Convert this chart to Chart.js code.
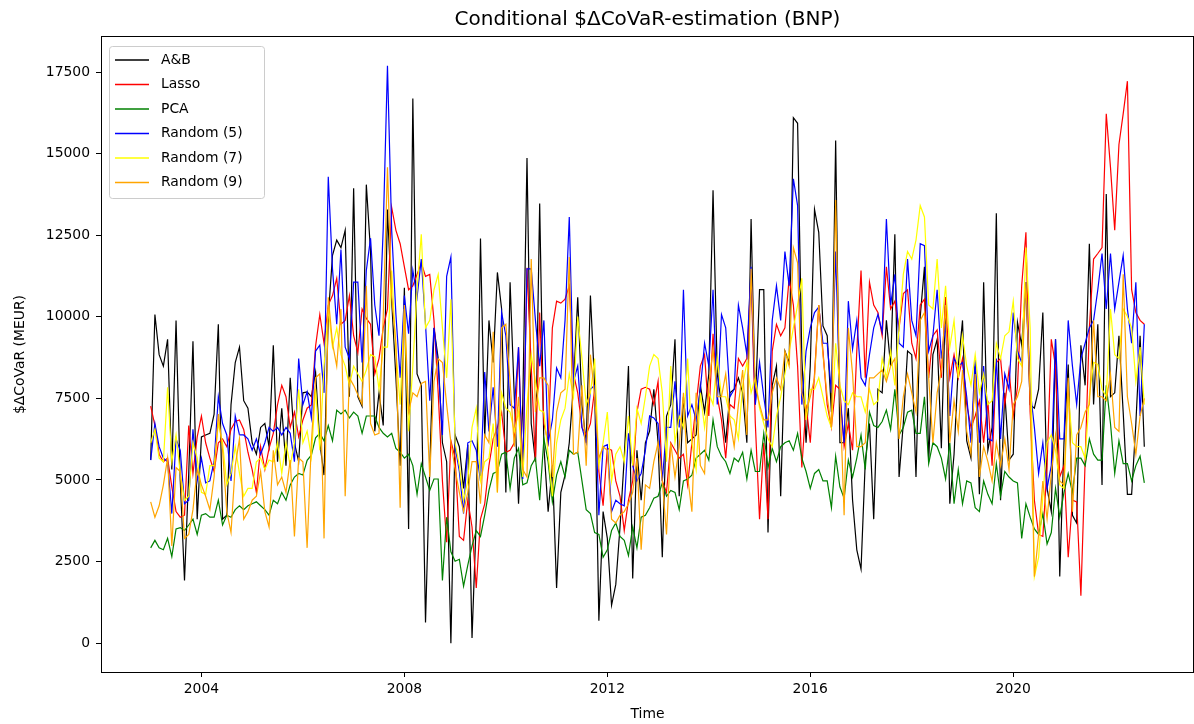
<!DOCTYPE html>
<html>
<head>
<meta charset="utf-8">
<title>Conditional ΔCoVaR estimation (BNP)</title>
<script src="https://cdn.jsdelivr.net/npm/chart.js@4.4.1/dist/chart.umd.min.js"></script>
<style>
  html, body { margin: 0; padding: 0; background: #fff; }
  #wrap { width: 1194px; height: 724px; }
</style>
</head>
<body>
<div id="wrap"><canvas id="covarChart" width="1194" height="724"></canvas></div>
<script>
// Monthly conditional $ΔCoVaR estimates for BNP (MEUR), Jan 2003 .. Aug 2022, one row per year
const startYear = 2003;

const abValues = [
  5610, 10070, 8840, 8490, 9310, 5320, 9890, 4970, 1920, 5200, 9250, 3800,
  6320, 6380, 6430, 7020, 9770, 3800, 3920, 7310, 8600, 9070, 7430, 7200,
  6140, 5790, 6610, 6730, 6020, 9130, 5560, 7200, 5440, 8130, 6140, 5560,
  7670, 7700, 7550, 8300, 6140, 5150, 10000, 11880, 12350, 12120, 12650, 7550,
  13940, 7550, 7260, 14050, 12000, 6490, 7670, 6670, 13290, 10480, 8130, 5440,
  10890, 3500, 16690, 8250, 7900, 630, 5320, 9660, 8720, 6140, 5560, 0,
  6380, 6020, 4740, 6080, 160, 3800, 12400, 6300, 9890, 8600, 11360, 10240,
  4620, 11060, 7550, 4270, 7310, 14870, 6730, 5560, 13470, 6020, 4030, 5440,
  1690, 4620, 5150, 6140, 7900, 10600, 7310, 6140, 10650, 7900, 690, 4030,
  3210, 1160, 1800, 3560, 5670, 8490, 1980, 5910, 4380, 6140, 6500, 7780,
  6140, 2630, 6960, 7310, 9310, 4500, 7550, 6140, 6260, 6380, 7900, 7080,
  8250, 13880, 8250, 7310, 6140, 7670, 7780, 8130, 7670, 6140, 13000, 7310,
  10830, 10830, 3390, 7900, 8490, 4500, 8950, 8600, 16100, 15930, 8720, 6140,
  8500, 13290, 12590, 9720, 9420, 7080, 15400, 6140, 6140, 7200, 4380, 2860,
  2270, 5560, 6730, 3800, 7780, 7670, 9890, 8490, 12530, 5090, 6730, 8950,
  8840, 5090, 10010, 11530, 5560, 8840, 9310, 5970, 10600, 4270, 5790, 8490,
  9890, 6200, 5670, 8490, 4560, 11060, 5910, 6610, 13170, 4380, 7670, 5610,
  5790, 9830, 9130, 11060, 7310, 7200, 7780, 10130, 4740, 4030, 9310, 2040,
  6140, 8540, 3920, 3680, 9130, 7900, 12240, 7310, 9770, 4850, 13760, 7550,
  7670, 9420, 7080, 4560, 4560, 6730, 9420, 6020
];

const lassoValues = [
  7260, 6670, 5790, 5560, 5670, 4790, 4030, 3860, 3920, 6670, 5200, 6320,
  6960, 6140, 5670, 5260, 6140, 6260, 6020, 6550, 6790, 6840, 6550, 5850,
  5320, 4620, 6020, 5320, 5970, 6430, 7310, 7900, 7550, 6610, 7080, 6320,
  6840, 7200, 7300, 9100, 10070, 9190, 10360, 10650, 11180, 9770, 9890, 10650,
  9420, 8900, 10240, 9950, 9770, 8250, 8720, 9660, 10240, 13350, 12650, 12240,
  11530, 10830, 10950, 11300, 11650, 11240, 11300, 9890, 7670, 4970, 3090, 6200,
  5670, 3270, 3150, 4380, 3560, 1690, 3800, 4270, 5440, 6260, 6610, 7080,
  5850, 5910, 6140, 9070, 5150, 11500, 8500, 5560, 10130, 6730, 6140, 9660,
  10480, 10420, 10540, 10950, 8250, 7670, 6610, 6380, 6730, 7780, 5260, 4210,
  5970, 5910, 4970, 4500, 3450, 4380, 4970, 7080, 7780, 7840, 7780, 7310,
  8020, 4970, 4620, 6140, 5910, 5670, 5790, 4850, 6140, 7310, 8490, 8840,
  6960, 9480, 7550, 6840, 5670, 7310, 7200, 8720, 8490, 8720, 11300, 6730,
  3800, 6140, 3800, 8950, 9770, 9420, 9660, 11180, 10360, 8490, 5380, 7310,
  6140, 8250, 10360, 8950, 7310, 6610, 7900, 7780, 6020, 6730, 5910, 8950,
  11420, 8130, 11060, 10360, 10130, 9420, 11530, 10240, 10480, 9660, 10710, 10830,
  9190, 8720, 10360, 10540, 8130, 9420, 9600, 8130, 10600, 8130, 8840, 8130,
  8720, 7310, 6610, 6960, 7430, 6140, 7430, 5440, 8600, 8720, 7310, 8370,
  6960, 7840, 10950, 12590, 7080, 4380, 3330, 3270, 5440, 9310, 8490, 5090,
  5440, 2630, 4380, 4330, 1450, 5560, 9660, 11770, 11940, 12120, 16220, 14580,
  12650, 15280, 16220, 17220, 10830, 10130, 9890, 9770
];

const pcaValues = [
  2920, 3150, 2920, 2860, 3210, 2650, 3500, 3540, 3450, 3620, 3800, 3330,
  3920, 3970, 3860, 3860, 4380, 3620, 3920, 3860, 4090, 4210, 4090, 4210,
  4270, 4330, 4210, 4090, 3920, 4380, 4270, 4620, 4380, 4850, 5090, 5200,
  5150, 5600, 5760, 6290, 6430, 6200, 6670, 6200, 7140, 7020, 7140, 6900,
  7080, 6960, 6430, 6960, 6960, 6960, 6610, 6430, 6320, 6430, 5970, 5850,
  5670, 5790, 5440, 4560, 5500, 5090, 4680, 5030, 5030, 1920, 3860, 2800,
  2510, 2570, 1750, 2390, 2980, 3450, 3270, 3920, 4680, 5200, 5260, 5790,
  5850, 4740, 5670, 5970, 4850, 4910, 5440, 5670, 4380, 6260, 5560, 4330,
  5150, 5560, 5090, 5910, 5790, 5850, 4970, 4090, 3970, 3390, 3330, 2630,
  2860, 3450, 3680, 3270, 3150, 2680, 3560, 2920, 3860, 3920, 4150, 4440,
  4500, 4910, 4500, 4680, 4620, 4090, 4970, 5030, 5150, 5670, 5790, 5910,
  5610, 6840, 6020, 5730, 5560, 5200, 5670, 5560, 5850, 5030, 5910, 5260,
  5260, 6430, 5380, 5970, 5560, 6020, 6140, 6200, 5910, 6430, 5670, 5260,
  4740, 5200, 5320, 4970, 4970, 4150, 5730, 4790, 4440, 5610, 5090, 5670,
  6380, 5320, 7080, 6670, 6610, 6790, 7140, 6550, 7780, 6380, 6610, 7080,
  7140, 6430, 6430, 7550, 5500, 6140, 6020, 5670, 5030, 6140, 4270, 5320,
  4270, 4970, 4910, 4150, 4030, 4970, 4560, 4270, 5500, 4500, 5260, 5090,
  4970, 4910, 3210, 4270, 3860, 3500, 3330, 3970, 3040, 3390, 4740, 3860,
  4620, 5200, 4620, 5670, 5670, 5440, 6260, 5790, 5610, 5610, 7900, 6730,
  5200, 6200, 5500, 5500, 4970, 5440, 5730, 4910
];

const random5Values = [
  5610, 6730, 6020, 5670, 5560, 3970, 6260, 5910, 4270, 4380, 6550, 4970,
  5670, 4910, 4970, 5560, 7550, 6730, 6380, 4970, 6960, 6380, 6380, 6260,
  5910, 6260, 5790, 6140, 6610, 6490, 6610, 6380, 6610, 6430, 5560, 8720,
  7310, 7700, 6900, 8950, 9130, 7670, 14290, 11470, 9770, 12060, 9070, 8720,
  11060, 11060, 8600, 11420, 12410, 10360, 9420, 12710, 17690, 12650, 10070, 8130,
  10650, 9480, 11420, 10600, 11770, 9770, 7430, 9660, 8490, 6380, 11240, 11830,
  6020, 5260, 3970, 6140, 6200, 5910, 4970, 8310, 6490, 7840, 6020, 10130,
  9420, 7310, 7200, 9070, 5030, 11470, 11470, 9890, 8490, 9890, 6140, 6840,
  8430, 8130, 9890, 13060, 8020, 8490, 6610, 6140, 7780, 7900, 3920, 6020,
  6080, 4030, 4380, 4270, 4210, 6430, 5440, 4970, 5200, 5910, 6960, 6900,
  6730, 4970, 6610, 6610, 8020, 6610, 10830, 6960, 7310, 6840, 7780, 9190,
  8490, 10830, 7310, 10070, 9660, 7550, 7780, 10360, 9660, 8840, 11530, 7310,
  8600, 7550, 6610, 9890, 10950, 9890, 12000, 10950, 14230, 13410, 7310, 8950,
  9660, 10130, 10300, 9190, 9190, 7670, 12000, 7550, 6140, 10480, 9010, 9890,
  8130, 7900, 8840, 9660, 10070, 9540, 13000, 10360, 11300, 9190, 9070, 11770,
  9890, 9420, 12240, 12180, 8950, 9420, 10830, 8720, 9770, 6960, 8720, 8490,
  8600, 7550, 6140, 8720, 6140, 8490, 6260, 6200, 8720, 6260, 8250, 7780,
  10130, 8950, 8600, 11060, 7780, 6610, 5200, 6140, 4740, 5440, 9310, 6260,
  6260, 9890, 8490, 7310, 8720, 9190, 9660, 9890, 10830, 11940, 10240, 11940,
  10240, 11060, 11880, 10240, 9190, 11060, 6960, 9770
];

const random7Values = [
  6140, 6550, 5670, 5560, 7840, 5560, 6380, 5200, 4380, 4500, 6140, 5670,
  4620, 4560, 5440, 5440, 6730, 6140, 4850, 5200, 6020, 5200, 4500, 4740,
  4740, 5560, 5670, 5320, 5610, 5560, 6140, 5200, 6140, 5440, 6140, 7780,
  6140, 6500, 5700, 7800, 5910, 8490, 10240, 9070, 9660, 8840, 8490, 7900,
  8490, 8250, 8020, 8370, 8840, 8780, 7780, 9070, 9070, 11420, 8950, 7310,
  10240, 6490, 8490, 10830, 12530, 9660, 9890, 10830, 11300, 9660, 8130, 10540,
  6140, 5440, 4380, 4970, 6610, 7200, 4970, 5560, 5670, 6730, 4620, 7670,
  7200, 7080, 6490, 7080, 5090, 7310, 8840, 8020, 7140, 7080, 5790, 4500,
  6140, 6840, 7200, 8250, 7550, 10010, 8720, 7310, 7670, 8720, 5440, 6140,
  7080, 4970, 5790, 6020, 5560, 6960, 5440, 7200, 6730, 7550, 8490, 8840,
  8720, 7670, 5560, 8490, 6140, 6960, 6610, 8720, 6140, 5320, 7670, 6610,
  7670, 7310, 8720, 7550, 7550, 6960, 6840, 6260, 7900, 8600, 7670, 8130,
  7200, 6730, 6260, 6020, 6960, 7550, 8250, 8950, 9660, 10360, 11180, 6840,
  7780, 7780, 8130, 7550, 6960, 6610, 9190, 7900, 7430, 7310, 7670, 7550,
  7550, 7080, 7780, 7310, 7430, 8720, 8130, 8950, 7900, 9660, 11300, 12000,
  11770, 12350, 13410, 13060, 10360, 10240, 11770, 9660, 10950, 9070, 9890, 8130,
  9420, 8490, 7900, 8840, 7670, 8250, 7310, 7430, 9190, 8720, 9420, 9540,
  10480, 8720, 8490, 12120, 9660, 2040, 2630, 4500, 6140, 6380, 5910, 4850,
  4740, 7670, 6140, 6020, 6020, 5670, 7550, 8600, 8540, 7780, 7550, 10240,
  8840, 8720, 10240, 10010, 9660, 8020, 9070, 7310
];

const random9Values = [
  4330, 3860, 4210, 4850, 5670, 2980, 5380, 5260, 3210, 3330, 4090, 5320,
  4850, 4500, 4090, 5090, 7020, 5910, 4030, 3390, 5440, 6260, 3800, 4030,
  4380, 4500, 5260, 4030, 3560, 5910, 4850, 5090, 4620, 5610, 3270, 5670,
  5560, 2920, 6140, 8130, 8250, 3210, 10600, 9190, 8490, 10240, 4500, 8130,
  7900, 7610, 7310, 10950, 6730, 6380, 6430, 10010, 14580, 10600, 9190, 4150,
  10360, 7080, 7670, 7550, 7960, 8020, 5090, 8020, 8720, 8600, 7310, 6140,
  5320, 4620, 4030, 4620, 5560, 5560, 4270, 6380, 6140, 9540, 4620, 9660,
  9770, 8020, 6020, 7550, 5320, 5090, 11770, 7080, 8130, 8130, 7900, 5090,
  7080, 7670, 7780, 11830, 5790, 5850, 7900, 5440, 8840, 7550, 5670, 6020,
  5910, 3800, 3680, 3920, 4030, 4270, 4620, 5670, 2860, 4850, 4740, 5560,
  6140, 4970, 3330, 6140, 5090, 6020, 7670, 5090, 4030, 7670, 5440, 5200,
  7900, 9010, 7550, 7550, 8250, 6840, 6020, 7310, 8370, 6380, 11470, 7900,
  7310, 6840, 6840, 7670, 8130, 7780, 8950, 8490, 12120, 11650, 7670, 7080,
  7550, 8130, 10360, 8840, 7550, 6610, 13580, 7670, 3920, 9660, 8250, 6020,
  6020, 6140, 8130, 8130, 8250, 8370, 8020, 8490, 8720, 6260, 7550, 8250,
  7670, 7080, 9890, 10130, 8130, 6140, 7670, 8370, 10360, 6140, 7430, 6490,
  8370, 6490, 5790, 8250, 5090, 6020, 5560, 4970, 6140, 5440, 6260, 5320,
  7310, 7550, 8020, 11060, 7550, 2040, 3330, 4970, 3800, 5200, 6380, 4970,
  4850, 8130, 4030, 6380, 6610, 7080, 7310, 9890, 7550, 7550, 7430, 8250,
  6610, 6490, 11300, 7550, 6730, 5790, 6960, 7500
];

const seriesNames = ['A&B', 'Lasso', 'PCA', 'Random (5)', 'Random (7)', 'Random (9)'];
const seriesColors = ['#000000', '#ff0000', '#008000', '#0000ff', '#ffff00', '#ffa500'];
const xTicks = [2004, 2008, 2012, 2016, 2020];
const yTicks = [0, 2500, 5000, 7500, 10000, 12500, 15000, 17500];

// month positions as fractional years
const monthPos = abValues.map((_, i) => startYear + i / 12);
const allSeries = [abValues, lassoValues, pcaValues, random5Values, random7Values, random9Values];

// 5% margins on both axes, like the usual autoscale
const xFirst = monthPos[0], xLast = monthPos[monthPos.length - 1];
const xPad = (xLast - xFirst) * 0.05;
const flat = allSeries.flat();
const yLo = Math.min(...flat), yHi = Math.max(...flat);
const yPad = (yHi - yLo) * 0.05;

const FONT = "'DejaVu Sans', 'Liberation Sans', sans-serif";
Chart.defaults.font.family = FONT;
Chart.defaults.color = '#000';

// box around the plot area plus a framed legend in the upper-left corner
const frameAndLegend = {
  id: 'frameAndLegend',
  afterDatasetsDraw(chart) {
    const ctx = chart.ctx;
    const a = chart.chartArea;
    ctx.save();
    ctx.strokeStyle = '#000';
    ctx.lineWidth = 1;
    ctx.strokeRect(a.left + 0.5, a.top - 0.5, a.right - a.left - 1, a.bottom - a.top + 1);

    // legend box
    const bx = 109.5, by = 46.5, bw = 155, bh = 152, r = 3;
    ctx.beginPath();
    ctx.moveTo(bx + r, by);
    ctx.lineTo(bx + bw - r, by);
    ctx.quadraticCurveTo(bx + bw, by, bx + bw, by + r);
    ctx.lineTo(bx + bw, by + bh - r);
    ctx.quadraticCurveTo(bx + bw, by + bh, bx + bw - r, by + bh);
    ctx.lineTo(bx + r, by + bh);
    ctx.quadraticCurveTo(bx, by + bh, bx, by + bh - r);
    ctx.lineTo(bx, by + r);
    ctx.quadraticCurveTo(bx, by, bx + r, by);
    ctx.closePath();
    ctx.fillStyle = 'rgba(255,255,255,0.8)';
    ctx.fill();
    ctx.strokeStyle = '#cccccc';
    ctx.stroke();

    ctx.font = '13.9px ' + FONT;
    ctx.textBaseline = 'middle';
    ctx.textAlign = 'left';
    chart.data.datasets.forEach((ds, k) => {
      const y = 60 + k * 24.5;
      ctx.strokeStyle = ds.borderColor;
      ctx.lineWidth = 1.3;
      ctx.beginPath();
      ctx.moveTo(115, y);
      ctx.lineTo(149, y);
      ctx.stroke();
      ctx.fillStyle = '#000';
      ctx.fillText(ds.label, 161, y);
    });
    ctx.restore();
  }
};

const datasets = allSeries.map((vals, k) => ({
  label: seriesNames[k],
  data: vals.map((v, i) => ({ x: monthPos[i], y: v })),
  borderColor: seriesColors[k],
  backgroundColor: seriesColors[k],
  borderWidth: 1.2,
  pointRadius: 0,
  tension: 0,
  fill: false,
  order: allSeries.length - k
}));

new Chart(document.getElementById('covarChart'), {
  type: 'line',
  data: { datasets },
  options: {
    responsive: false,
    animation: false,
    devicePixelRatio: 1,
    events: [],
    layout: { padding: 0 },
    plugins: {
      legend: { display: false },
      tooltip: { enabled: false },
      title: {
        display: true,
        fullSize: false,
        text: 'Conditional $ΔCoVaR-estimation (BNP)',
        font: { size: 20, weight: 'normal' },
        color: '#000',
        padding: { top: 8, bottom: 5 }
      }
    },
    scales: {
      x: {
        type: 'linear',
        min: xFirst - xPad,
        max: xLast + xPad,
        afterBuildTicks: scale => { scale.ticks = xTicks.map(v => ({ value: v })); },
        afterFit: scale => { scale.height = 52; },
        border: { display: false },
        grid: { drawOnChartArea: false, drawTicks: true, tickLength: 5, color: '#000' },
        ticks: {
          font: { size: 13.9 },
          padding: 4,
          maxRotation: 0,
          callback: v => String(v)
        },
        title: {
          display: true,
          text: 'Time',
          font: { size: 13.9 },
          padding: { top: 4, bottom: 1 }
        }
      },
      y: {
        type: 'linear',
        min: yLo - yPad,
        max: yHi + yPad,
        afterBuildTicks: scale => { scale.ticks = yTicks.map(v => ({ value: v })); },
        afterFit: scale => { scale.width = 101; },
        border: { display: false },
        grid: { drawOnChartArea: false, drawTicks: true, tickLength: 5, color: '#000' },
        ticks: {
          font: { size: 13.9 },
          padding: 6,
          callback: v => String(v)
        },
        title: {
          display: true,
          text: '$ΔCoVaR (MEUR)',
          font: { size: 13.9 },
          padding: { top: 12, bottom: 0 }
        }
      }
    }
  },
  plugins: [frameAndLegend]
});
</script>
</body>
</html>
